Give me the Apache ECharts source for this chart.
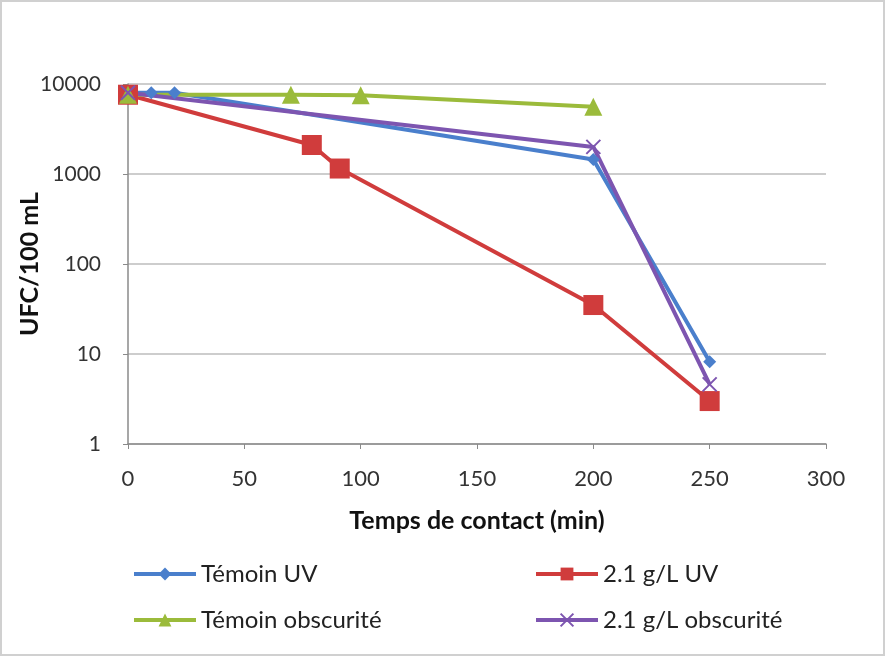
<!DOCTYPE html>
<html>
<head>
<meta charset="utf-8">
<script src="https://cdn.jsdelivr.net/npm/echarts@6/dist/echarts.min.js"></script>
<style>
  html, body { margin: 0; padding: 0; background: #fff; }
  #main { width: 885px; height: 656px; }
</style>
</head>
<body>
<div id="main"></div>
<script>
// données
var temoinUV = [[0, 8000], [10, 8000], [20, 8000], [200, 1450], [250, 8.2]];
var uv21 = [[0, 7600], [79, 2100], [91, 1150], [200, 35], [250, 3]];
var temoinObs = [[0, 7600], [70, 7600], [100, 7500], [200, 5600]];
var obs21 = [[0, 8000], [200, 2000], [250, 4.6]];
var xTicks = [0, 50, 100, 150, 200, 250, 300];

var police = 'Lato, "Open Sans", sans-serif';
var myChart = echarts.init(document.getElementById('main'));

function serie(nom, data, couleur, symbole, taille) {
  return {
    name: nom,
    type: 'line',
    data: data,
    symbol: symbole,
    symbolSize: taille,
    lineStyle: { color: couleur, width: 4 },
    itemStyle: { color: couleur },
    z: 3
  };
}

var croix = 'path://M0,0 L10,10 M10,0 L0,10 M0,0 L10,10';

myChart.setOption({
  animation: false,
  backgroundColor: '#fff',
  textStyle: { fontFamily: police },
  graphic: [{
    type: 'rect',
    shape: { x: 1, y: 1, width: 883, height: 654 },
    style: { fill: 'none', stroke: '#d0d0d0', lineWidth: 2 },
    silent: true
  }],
  grid: { left: 128, right: 59, top: 84, bottom: 212, outerBoundsMode: 'none', containLabel: false },
  legend: [{
    data: ['Témoin UV', 'Témoin obscurité'],
    orient: 'vertical',
    left: 127, top: 557,
    itemWidth: 62, itemHeight: 16, itemGap: 22,
    lineStyle: { width: 4 },
    textStyle: { fontSize: 24, color: '#222', fontFamily: police }
  }, {
    data: ['2.1 g/L UV', '2.1 g/L obscurité'],
    orient: 'vertical',
    left: 529, top: 557,
    itemWidth: 62, itemHeight: 16, itemGap: 22,
    lineStyle: { width: 4 },
    textStyle: { fontSize: 24, color: '#222', fontFamily: police }
  }],
  xAxis: {
    type: 'value',
    min: xTicks[0], max: xTicks[xTicks.length - 1], interval: 50,
    name: 'Temps de contact (min)',
    nameLocation: 'middle', nameGap: 64,
    nameTextStyle: { fontSize: 25, fontWeight: 'bold', color: '#111', fontFamily: police },
    axisLine: { lineStyle: { color: '#8a8a8a', width: 1.5 } },
    axisTick: { show: true, length: 5, lineStyle: { color: '#8a8a8a' } },
    axisLabel: { fontSize: 22, color: '#333', margin: 24, fontFamily: police },
    splitLine: { show: false }
  },
  yAxis: {
    type: 'log', logBase: 10, min: 1, max: 10000,
    name: 'UFC/100 mL',
    nameLocation: 'middle', nameGap: 86, nameMoveOverlap: false,
    nameTextStyle: { fontSize: 25, fontWeight: 'bold', color: '#111', fontFamily: police },
    axisLine: { show: true, lineStyle: { color: '#8a8a8a', width: 1.5 } },
    axisTick: { show: true, length: 5, lineStyle: { color: '#8a8a8a' } },
    axisLabel: {
      fontSize: 21, color: '#333', margin: 27, fontFamily: police,
      formatter: function (v) { return String(Math.round(v)); }
    },
    splitLine: { show: true, lineStyle: { color: '#bdbdbd', width: 1.5 } }
  },
  series: [
    serie('Témoin UV', temoinUV, '#4a7fcc', 'diamond', 13),
    serie('2.1 g/L UV', uv21, '#d03c3c', 'rect', 20),
    serie('Témoin obscurité', temoinObs, '#9bbb3b', 'triangle', 18),
    Object.assign(serie('2.1 g/L obscurité', obs21, '#7d55b0', croix, 14), {
      itemStyle: { color: 'none', borderColor: '#7d55b0', borderWidth: 2 }
    })
  ]
});
</script>
</body>
</html>
